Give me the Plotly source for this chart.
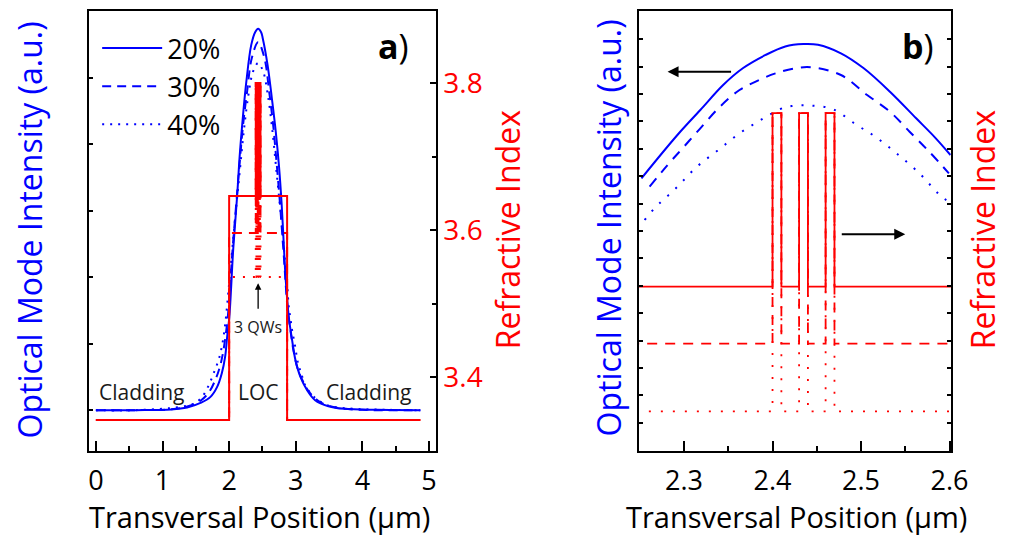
import plotly.graph_objects as go

# ---------------- data ----------------
labels = ["20%", "30%", "40%"]

# refractive-index profile: layer edges (um) and index of each layer
layer_edges = [0.0, 2.00, 2.40, 2.41, 2.43, 2.44, 2.46, 2.47, 2.87, 4.87]
ri_20 = [3.3415, 3.6463, 3.80, 3.6463, 3.80, 3.6463, 3.80, 3.6463, 3.3415]
ri_30 = [3.3415, 3.5959, 3.80, 3.5959, 3.80, 3.5959, 3.80, 3.5959, 3.3415]
ri_40 = [3.3415, 3.5360, 3.80, 3.5360, 3.80, 3.5360, 3.80, 3.5360, 3.3415]

# panel a: optical mode intensity over the full structure
pos_a_20 = [0.00, 0.60, 1.13, 1.37, 1.57, 1.72, 1.82, 1.89, 1.94, 1.97, 2.003, 2.062, 2.121,
            2.159, 2.209, 2.258, 2.331, 2.39, 2.435, 2.48, 2.504, 2.577, 2.641, 2.70, 2.748,
            2.788, 2.822, 2.85, 2.895, 2.945, 2.995, 3.07, 3.17, 3.29, 3.49, 3.73, 4.22, 4.87]
int_a_20 = [0.000, 0.000, 0.002, 0.008, 0.022, 0.040, 0.070, 0.111, 0.161, 0.221, 0.281, 0.487,
            0.648, 0.768, 0.889, 0.989, 1.099, 1.138, 1.148, 1.138, 1.120, 1.039, 0.939, 0.838,
            0.735, 0.620, 0.490, 0.390, 0.281, 0.211, 0.151, 0.100, 0.060, 0.030, 0.012, 0.004,
            0.001, 0.000]

pos_a_30 = [0.00, 0.60, 1.20, 1.42, 1.58, 1.70, 1.79, 1.86, 1.91, 1.95, 1.98, 2.05, 2.11, 2.16,
            2.21, 2.27, 2.34, 2.435, 2.53, 2.60, 2.66, 2.71, 2.76, 2.815, 2.88, 2.92, 2.965,
            3.02, 3.10, 3.20, 3.36, 3.60, 4.00, 4.87]
int_a_30 = [0.000, 0.000, 0.004, 0.014, 0.030, 0.055, 0.090, 0.130, 0.175, 0.230, 0.281, 0.480,
            0.630, 0.750, 0.860, 0.960, 1.060, 1.108, 1.060, 0.960, 0.860, 0.750, 0.630, 0.480,
            0.300, 0.240, 0.180, 0.130, 0.090, 0.055, 0.025, 0.008, 0.001, 0.000]

pos_a_40 = [0.00, 0.60, 1.275, 1.473, 1.595, 1.694, 1.767, 1.841, 1.890, 1.923, 1.953, 1.99,
            2.04, 2.10, 2.16, 2.22, 2.29, 2.36, 2.435, 2.51, 2.58, 2.65, 2.71, 2.77, 2.83, 2.87,
            2.895, 2.920, 2.945, 2.984, 3.034, 3.082, 3.141, 3.264, 3.436, 3.583, 3.878, 4.87]
int_a_40 = [0.000, 0.000, 0.010, 0.020, 0.040, 0.075, 0.111, 0.151, 0.191, 0.231, 0.281, 0.360,
            0.470, 0.600, 0.720, 0.840, 0.950, 1.020, 1.045, 1.020, 0.950, 0.840, 0.720, 0.600,
            0.470, 0.380, 0.311, 0.276, 0.241, 0.200, 0.141, 0.111, 0.075, 0.042, 0.018, 0.010,
            0.004, 0.000]

# panel b: zoom on the active region
pos_b_20 = [2.2519, 2.2925, 2.3184, 2.3442, 2.3664, 2.3922, 2.4144, 2.4348, 2.4514, 2.4773,
            2.5031, 2.5327, 2.5623, 2.5845, 2.6011]
int_b_20 = [0.9278, 0.9988, 1.0398, 1.0808, 1.1082, 1.1300, 1.1440, 1.1480, 1.1468, 1.1328,
            1.1082, 1.0698, 1.0262, 0.9934, 0.9660]

pos_b_30 = [2.2611, 2.2814, 2.2999, 2.3184, 2.3406, 2.3627, 2.3849, 2.4033, 2.4255, 2.4440,
            2.4773, 2.5069, 2.5327, 2.5549, 2.5771, 2.5993]
int_b_30 = [0.9141, 0.9496, 0.9796, 1.0098, 1.0452, 1.0726, 1.0890, 1.0999, 1.1082, 1.1098,
            1.0972, 1.0644, 1.0370, 1.0042, 0.9714, 0.9360]

pos_b_40 = [2.2555, 2.2666, 2.2907, 2.3146, 2.3387, 2.3627, 2.3867, 2.4089, 2.4218, 2.4440,
            2.4680, 2.4939, 2.5161, 2.5401, 2.5660, 2.5882, 2.6011]
int_b_40 = [0.8595, 0.8787, 0.9114, 0.9469, 0.9742, 1.0016, 1.0234, 1.0414, 1.0464, 1.0469,
            1.0414, 1.0164, 0.9960, 0.9688, 0.9360, 0.9016, 0.8869]

x_ticks_a = [0, 1, 2, 3, 4, 5]
x_ticks_b = [2.3, 2.4, 2.5, 2.6]

# ---------------- styles ----------------
FONT = "Open Sans"
BLUE = "#0000ff"
RED = "#ff0000"
W, H = 1013, 535


def px(x):                   # page pixel -> paper x
    return x / W


def py(y):                   # page pixel -> paper y
    return 1 - y / H


blue_dash_a = {"20%": "solid", "30%": "9px,6px", "40%": "2px,6px"}
blue_dash_b = {"20%": "solid", "30%": "10px,8px", "40%": "2px,9px"}
red_dash_a = {"20%": "solid", "30%": "10px,7px", "40%": "2px,8px"}
red_dash_b = {"20%": "solid", "30%": "10px,8px", "40%": "2px,10px"}

fig = go.Figure()

ri_sets = {"20%": ri_20, "30%": ri_30, "40%": ri_40}
a_sets = {"20%": (pos_a_20, int_a_20), "30%": (pos_a_30, int_a_30), "40%": (pos_a_40, int_a_40)}
b_sets = {"20%": (pos_b_20, int_b_20), "30%": (pos_b_30, int_b_30), "40%": (pos_b_40, int_b_40)}

# red index profiles (dotted/dashed first, solid on top)
for lab in reversed(labels):
    ri = ri_sets[lab]
    fig.add_trace(go.Scatter(x=layer_edges, y=ri + [ri[-1]], mode="lines", line_shape="hv",
                             line=dict(color=RED, width=2, dash=red_dash_a[lab]),
                             xaxis="x", yaxis="y2", showlegend=False, hoverinfo="skip"))
    fig.add_trace(go.Scatter(x=layer_edges, y=ri + [ri[-1]], mode="lines", line_shape="hv",
                             line=dict(color=RED, width=1.8, dash=red_dash_b[lab]),
                             xaxis="x2", yaxis="y4", showlegend=False, hoverinfo="skip"))

# blue intensity curves
for lab in labels:
    xa, ya = a_sets[lab]
    fig.add_trace(go.Scatter(x=xa, y=ya, mode="lines", line_shape="spline", name=lab,
                             line=dict(color=BLUE, width=2, dash=blue_dash_a[lab]),
                             xaxis="x", yaxis="y", showlegend=True))
    xb, yb = b_sets[lab]
    fig.add_trace(go.Scatter(x=xb, y=yb, mode="lines", line_shape="spline",
                             line=dict(color=BLUE, width=2, dash=blue_dash_b[lab]),
                             xaxis="x2", yaxis="y3", showlegend=False))

dom_y = [py(451), py(11)]
axis_common = dict(showline=True, linecolor="black", linewidth=2, showgrid=False,
                   zeroline=False, ticks="inside", tickcolor="black", tickwidth=2)

fig.update_layout(
    width=W, height=H, margin=dict(l=0, r=0, t=0, b=0),
    paper_bgcolor="white", plot_bgcolor="white",
    font=dict(family=FONT, color="black"),
    xaxis=dict(**axis_common, domain=[px(90), px(443)], range=[-0.0987, 5.1], anchor="y",
               mirror=True, tickvals=x_ticks_a, ticklen=10, ticklabelstandoff=5,
               minor=dict(dtick=0.5, ticklen=5, ticks="inside", tickcolor="black", tickwidth=2),
               tickfont=dict(size=27, color="black")),
    yaxis=dict(**axis_common, domain=dom_y, range=[-0.1229, 1.2018], anchor="x",
               dtick=0.2, tick0=0, ticklen=4, showticklabels=False),
    yaxis2=dict(**axis_common, overlaying="y", side="right", anchor="x",
                range=[3.2993, 3.898], tickvals=[3.4, 3.6, 3.8], ticktext=["3.4", "3.6", "3.8"],
                ticklen=6, minor=dict(dtick=0.1, ticklen=4, ticks="inside", tickcolor="black",
                                      tickwidth=2),
                tickfont=dict(size=28, color=RED)),
    xaxis2=dict(**axis_common, domain=[px(650), px(968)], range=[2.2489, 2.6015], anchor="y3",
                mirror=True, tickvals=x_ticks_b, ticktext=["2.3", "2.4", "2.5", "2.6"],
                ticklen=10, ticklabelstandoff=5,
                minor=dict(dtick=0.05, tick0=2.25, ticklen=5, ticks="inside", tickcolor="black",
                           tickwidth=2),
                tickfont=dict(size=27, color="black")),
    yaxis3=dict(**axis_common, domain=dom_y, range=[0.4808, 1.2021], anchor="x2",
                mirror="ticks", tick0=1.1557, dtick=0.04489, ticklen=4, showticklabels=False),
    yaxis4=dict(overlaying="y3", side="right", anchor="x2", range=[3.5009, 3.8903],
                showline=False, showgrid=False, zeroline=False, showticklabels=False,
                ticks=""),
    legend=dict(x=px(98), y=py(24), xanchor="left", yanchor="top",
                font=dict(size=27, family=FONT, color="black"), bgcolor="rgba(0,0,0,0)",
                itemwidth=60, tracegroupgap=0),
)

ann = []


def txt(text, x, y, size, color="black", angle=0):
    ann.append(dict(text=text, x=px(x), y=py(y), xref="paper", yref="paper",
                    showarrow=False, textangle=angle, xanchor="center", yanchor="middle",
                    font=dict(family=FONT, size=size, color=color)))


txt("Optical Mode Intensity (a.u.)", 29, 230, 32, BLUE, -90)
txt("Refractive Index", 516, 229, 32, RED, -90)
txt("Optical Mode Intensity (a.u.)", 619, 228, 32, BLUE, -90)
txt("Refractive Index", 1000, 229, 32, RED, -90)
txt("Transversal Position (μm)", 263.5, 516, 29)
txt("Transversal Position (μm)", 811, 516, 29)
txt("<b>a</b>)", 400, 46, 34)
txt("<b>b</b>)", 935, 46, 34)
txt("Cladding", 143.3, 392, 21, "#1a1a1a")
txt("LOC", 262, 392, 21, "#1a1a1a")
txt("Cladding", 374.2, 392, 21, "#1a1a1a")
txt("3 QWs", 262, 327, 16, "#1a1a1a")

# arrows
ann.append(dict(x=2.435, y=0.3825, xref="x", yref="y", ax=0, ay=27,
                showarrow=True, arrowhead=2, arrowsize=1, arrowwidth=1.3,
                arrowcolor="black", text=""))
ann.append(dict(x=2.2814, y=1.1026, xref="x2", yref="y3", ax=65, ay=0, showarrow=True,
                arrowhead=2, arrowsize=1.1, arrowwidth=2, arrowcolor="black", text=""))
ann.append(dict(x=2.5500, y=3.6927, xref="x2", yref="y4", ax=-65, ay=0, showarrow=True,
                arrowhead=2, arrowsize=1.1, arrowwidth=2, arrowcolor="black", text=""))
fig.update_layout(annotations=ann)

fig.write_html("out.html",
               config={"displayModeBar": False, "responsive": False},
               post_script="document.body.style.margin='0';"
                           "document.body.style.overflow='hidden';")
